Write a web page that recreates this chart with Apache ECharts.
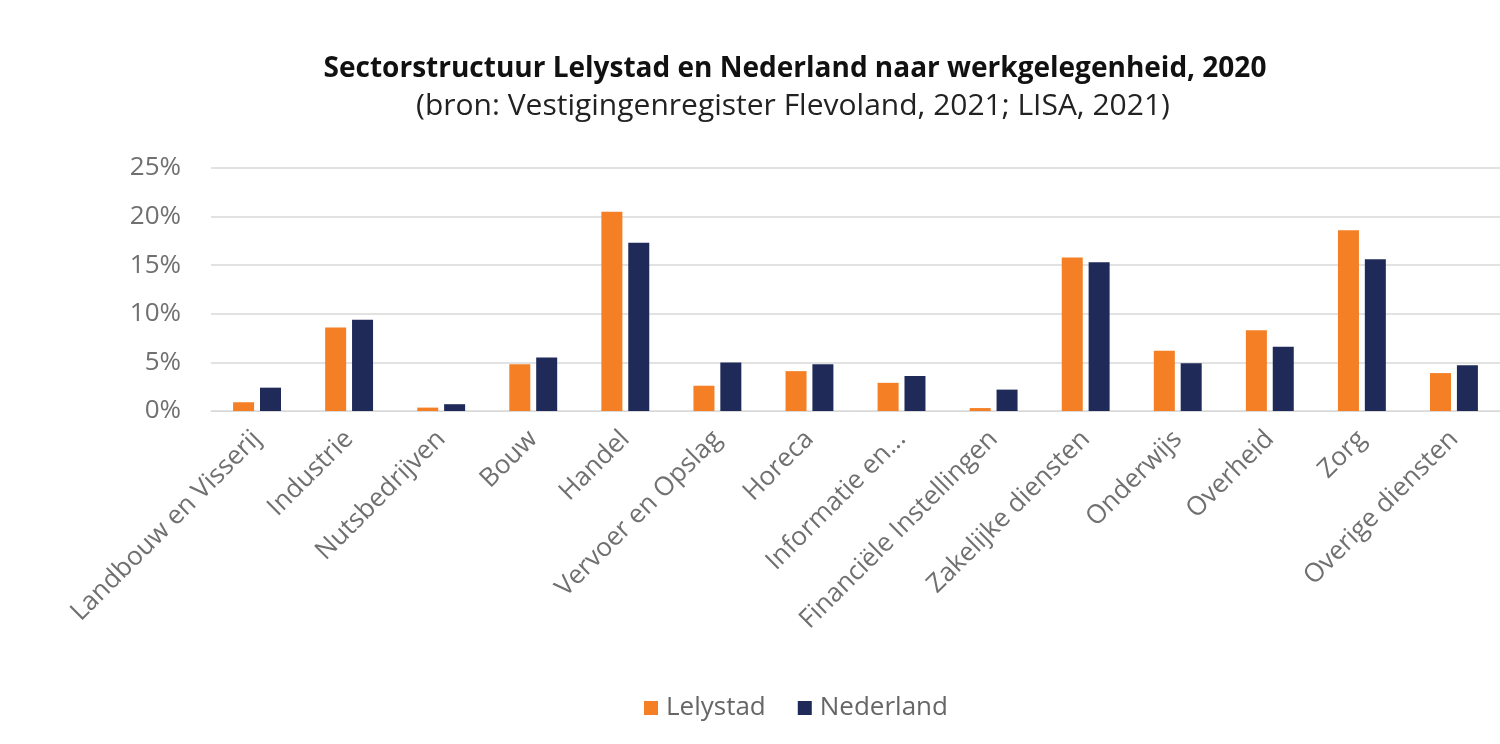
<!DOCTYPE html>
<html>
<head>
<meta charset="utf-8">
<script src="https://cdn.jsdelivr.net/npm/echarts@6/dist/echarts.min.js"></script>
<style>
html,body{margin:0;padding:0;background:#fff;}
#chart{width:1500px;height:744px;}
</style>
</head>
<body>
<div id="chart"></div>
<script>
const titleText = 'Sectorstructuur Lelystad en Nederland naar werkgelegenheid, 2020';
const subtitleText = '(bron: Vestigingenregister Flevoland, 2021; LISA, 2021)';
const categories = ['Landbouw en Visserij','Industrie','Nutsbedrijven','Bouw','Handel','Vervoer en Opslag','Horeca','Informatie en...','Financiële Instellingen','Zakelijke diensten','Onderwijs','Overheid','Zorg','Overige diensten'];
const lelystad = [0.9, 8.6, 0.35, 4.8, 20.5, 2.6, 4.1, 2.9, 0.3, 15.8, 6.2, 8.3, 18.6, 3.9];
const nederland = [2.4, 9.4, 0.7, 5.5, 17.3, 5.0, 4.8, 3.6, 2.2, 15.3, 4.9, 6.6, 15.6, 4.7];
const seriesNames = ['Lelystad','Nederland'];
const yTicks = {min:0, max:25, interval:5};

const chart = echarts.init(document.getElementById('chart'), null, {renderer:'canvas'});
const font = '"Open Sans", "Noto Sans", sans-serif';
chart.setOption({
  animation:false,
  backgroundColor:'#ffffff',
  title:[
    {text:titleText, left:790, textAlign:'center', top:50, textStyle:{fontFamily:font, fontWeight:'bold', fontSize:28, color:'#111'}},
    {text:subtitleText, left:788, textAlign:'center', top:86, textStyle:{fontFamily:font, fontWeight:'normal', fontSize:30, color:'#222'}}
  ],
  legend:{
    data:seriesNames, top:690, left:639, itemWidth:14, itemHeight:14, itemGap:32,
    icon:'rect',
    textStyle:{fontFamily:font, fontSize:26, color:'#666666', padding:[0,0,0,3]}
  },
  grid:{left:211, width:1292, top:168, bottom:333, containLabel:false},
  xAxis:{
    type:'category', data:categories,
    axisLine:{show:true, lineStyle:{color:'#D9D9D9', width:1}},
    axisTick:{show:false},
    axisLabel:{rotate:45, interval:0, margin:24, fontFamily:font, fontSize:26, color:'#707070'}
  },
  yAxis:{
    type:'value', min:yTicks.min, max:yTicks.max, interval:yTicks.interval,
    axisLine:{show:false}, axisTick:{show:false},
    axisLabel:{formatter:'{value}%', margin:30, fontFamily:font, fontSize:26, color:'#707070'},
    splitLine:{lineStyle:{color:'#D9D9D9', width:1.5}}
  },
  series:[
    {name:seriesNames[0], type:'bar', data:lelystad, barWidth:21, barGap:'28%', itemStyle:{color:'#F47F24'}},
    {name:seriesNames[1], type:'bar', data:nederland, barWidth:21, barGap:'28%', itemStyle:{color:'#1F2A58'}}
  ]
});
</script>
</body>
</html>
